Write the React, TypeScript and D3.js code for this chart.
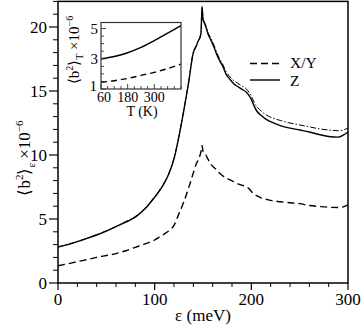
import React from "react";
import * as d3 from "d3";

// Main panel data (energy in meV)
const eps = [0, 10, 20, 30, 40, 50, 60, 70, 80, 90, 100, 105, 110, 115, 120, 125, 130, 135, 140, 143, 145, 147, 148, 149, 150, 151, 153, 155, 158, 161, 164, 167, 170, 174, 178, 182, 186, 190, 195, 198, 200, 203, 206, 210, 215, 220, 230, 240, 250, 260, 270, 280, 290, 295, 300];
const zVals = [2.8, 3.0, 3.23, 3.48, 3.75, 4.05, 4.4, 4.75, 5.15, 5.8, 6.7, 7.2, 7.8, 8.6, 9.7, 11.4, 13.4, 15.6, 18.0, 18.5, 18.9, 19.2, 19.6, 21.6, 20.6, 20.4, 20.0, 19.5, 19.0, 18.5, 17.9, 17.4, 17.0, 16.3, 15.9, 15.55, 15.35, 15.15, 14.9, 14.6, 14.35, 13.8, 13.4, 13.1, 12.8, 12.6, 12.3, 12.1, 11.95, 11.8, 11.6, 11.45, 11.4, 11.55, 11.8];
const zAltVals = [2.82, 3.02, 3.25, 3.5, 3.78, 4.08, 4.43, 4.8, 5.2, 5.85, 6.75, 7.25, 7.85, 8.65, 9.75, 11.45, 13.45, 15.65, 18.05, 18.55, 18.95, 19.25, 19.65, 21.5, 20.65, 20.45, 20.1, 19.6, 19.15, 18.65, 18.05, 17.55, 17.15, 16.5, 16.1, 15.8, 15.6, 15.4, 15.15, 14.85, 14.6, 14.1, 13.75, 13.45, 13.15, 12.95, 12.7, 12.5, 12.35, 12.2, 12.05, 11.95, 11.9, 11.95, 12.1];
const xyVals = [1.35, 1.5, 1.67, 1.83, 2.0, 2.15, 2.3, 2.52, 2.79, 3.05, 3.36, 3.6, 3.83, 4.1, 4.5, 5.4, 6.3, 7.4, 8.6, 9.3, 9.6, 10.0, 10.3, 10.75, 10.3, 10.2, 10.0, 9.7, 9.3, 9.05, 8.85, 8.6, 8.4, 8.2, 8.05, 7.9, 7.75, 7.65, 7.5, 7.35, 7.15, 6.95, 6.8, 6.65, 6.55, 6.45, 6.35, 6.27, 6.2, 6.05, 5.98, 5.92, 5.9, 5.95, 6.1];

const xMajor = [0, 100, 200, 300];
const yMajor = [0, 5, 10, 15, 20];

// Inset data (temperature in K)
const tempK = [60, 120, 180, 240, 300, 360, 420];
const insetZ = [3.0, 3.15, 3.4, 3.75, 4.2, 4.7, 5.2];
const insetXY = [1.45, 1.55, 1.7, 1.9, 2.1, 2.35, 2.65];
const insetXTicks = [60, 180, 300];
const insetYTicks = [1, 3, 5];

const legendLabels = ["X/Y", "Z"];

const FONT = "Liberation Serif, Times New Roman, serif";

export default function App() {
  const W = 361, H = 327;
  const x = d3.scaleLinear().domain([0, 300]).range([58, 348]);
  const y = d3.scaleLinear().domain([0, 22]).range([283, 1.4]);

  const ix = d3.scaleLinear().domain([60, 420]).range([101, 181]);
  const iy = d3.scaleLinear().domain([1, 5.4]).range([89, 22.5]);

  const mkLine = (vals: number[]) =>
    d3.line<number>().x((_, i) => x(eps[i])).y((d) => y(d)).curve(d3.curveMonotoneX)(vals) || "";
  const mkInset = (vals: number[]) =>
    d3.line<number>().x((_, i) => ix(tempK[i])).y((d) => iy(d)).curve(d3.curveMonotoneX)(vals) || "";

  const xMinor = d3.range(0, 301, 20).filter((v) => !xMajor.includes(v));
  const yMinor = d3.range(0, 22.01, 1).filter((v) => !yMajor.includes(v));
  const ixMinor = d3.range(60, 421, 30);
  const iyMinor = d3.range(1, 5.41, 0.5);

  const [x0, x1] = x.range();
  const [y0, y1] = y.range();
  const tf = { fontFamily: FONT };

  return (
    <svg width={W} height={H} style={{ position: "fixed", left: 0, top: 0, display: "block", background: "#fff", fontFamily: FONT }}>
      <rect x={0} y={0} width={W} height={H} fill="#fff" />
      {/* curves */}
      <path d={mkLine(xyVals)} fill="none" stroke="#000" strokeWidth={1.4} strokeDasharray="7,4" />
      <path d={mkLine(zAltVals)} fill="none" stroke="#000" strokeWidth={1} strokeDasharray="6,2,1.5,2" />
      <path d={mkLine(zVals)} fill="none" stroke="#000" strokeWidth={1.4} />

      {/* frame */}
      <rect x={x0} y={y1} width={x1 - x0} height={y0 - y1} fill="none" stroke="#000" strokeWidth={1.5} />

      {/* x ticks */}
      {xMajor.map((v) => (
        <g key={"xm" + v}>
          <line x1={x(v)} x2={x(v)} y1={y0} y2={y0 + 7} stroke="#000" strokeWidth={1.2} />
          <text style={tf} x={x(v)} y={305} textAnchor="middle" fontSize={17}>{v}</text>
        </g>
      ))}
      {xMinor.map((v) => (
        <line key={"xn" + v} x1={x(v)} x2={x(v)} y1={y0} y2={y0 + 4} stroke="#000" strokeWidth={1} />
      ))}
      {/* y ticks */}
      {yMajor.map((v) => (
        <g key={"ym" + v}>
          <line x1={x0 - 9} x2={x0} y1={y(v)} y2={y(v)} stroke="#000" strokeWidth={1.2} />
          <text style={tf} x={47} y={y(v)} dy="0.35em" textAnchor="end" fontSize={17}>{v}</text>
        </g>
      ))}
      {yMinor.map((v) => (
        <line key={"yn" + v} x1={x0 - 5} x2={x0} y1={y(v)} y2={y(v)} stroke="#000" strokeWidth={1} />
      ))}

      {/* axis labels */}
      <text style={tf} x={203} y={321} textAnchor="middle" fontSize={17}>ε (meV)</text>
      <text style={tf} transform="translate(30,158) rotate(-90)" textAnchor="middle" fontSize={17}>
        ⟨b<tspan dy={-7} fontSize={11}>2</tspan><tspan dy={7}>⟩</tspan><tspan dy={5} fontSize={11}>ε</tspan><tspan dy={-5}> ×10</tspan><tspan dy={-7} fontSize={11}>−6</tspan>
      </text>

      {/* legend */}
      <line x1={250} x2={280} y1={63.5} y2={63.5} stroke="#000" strokeWidth={1.4} strokeDasharray="7,4" />
      <text style={tf} x={290} y={68} fontSize={15.5}>{legendLabels[0]}</text>
      <line x1={250} x2={280} y1={80} y2={80} stroke="#000" strokeWidth={1.4} />
      <text style={tf} x={290} y={85.5} fontSize={15.5}>{legendLabels[1]}</text>

      {/* inset */}
      <rect x={101} y={22.5} width={80} height={66.5} fill="#fff" />
      <path d={mkInset(insetXY)} fill="none" stroke="#000" strokeWidth={1.4} strokeDasharray="6,4" />
      <path d={mkInset(insetZ)} fill="none" stroke="#000" strokeWidth={1.4} />
      <rect x={101} y={22.5} width={80} height={66.5} fill="none" stroke="#333" strokeWidth={1.2} />
      {ixMinor.map((v) => (
        <line key={"ixn" + v} x1={ix(v)} x2={ix(v)} y1={89} y2={insetXTicks.includes(v) ? 84 : 86} stroke="#333" strokeWidth={0.9} />
      ))}
      {iyMinor.map((v) => (
        <line key={"iyn" + v} x1={101} x2={insetYTicks.includes(v) ? 106 : 104} y1={iy(v)} y2={iy(v)} stroke="#333" strokeWidth={0.9} />
      ))}
      {insetXTicks.map((v) => (
        <text style={tf} key={"ixl" + v} x={ix(v) + (v === 60 ? 3 : 0)} y={102} textAnchor="middle" fontSize={14}>{v}</text>
      ))}
      {insetYTicks.map((v) => (
        <text style={tf} key={"iyl" + v} x={v === 1 ? 97 : 98} y={iy(v) - (v === 1 ? 3 : 0)} dy="0.35em" textAnchor="end" fontSize={15}>{v}</text>
      ))}
      <text style={tf} x={142} y={116} textAnchor="middle" fontSize={14}>T (K)</text>
      <text style={tf} transform="translate(79,50) rotate(-90)" textAnchor="middle" fontSize={15}>
        ⟨b<tspan dy={-6} fontSize={10}>2</tspan><tspan dy={6}>⟩</tspan><tspan dy={4} fontSize={10}>T</tspan><tspan dy={-4}> ×10</tspan><tspan dy={-6} fontSize={10}>−6</tspan>
      </text>
    </svg>
  );
}
